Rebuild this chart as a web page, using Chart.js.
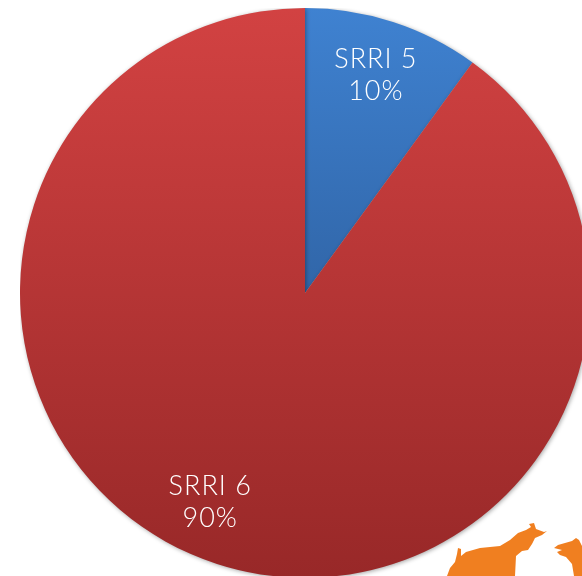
<!DOCTYPE html>
<html><head><meta charset="utf-8">
<script src="https://cdn.jsdelivr.net/npm/chart.js@4/dist/chart.umd.min.js"></script>
<style>
html,body{margin:0;padding:0;width:582px;height:576px;overflow:hidden;background:#fff;}
#wrap{position:absolute;left:20px;top:8px;width:570px;height:570px;}
#logo{position:absolute;left:0;top:0;}
</style></head><body>
<div id="wrap"><canvas id="c" width="570" height="570"></canvas></div>
<canvas id="logo" width="582" height="576"></canvas>
<script>
const categories = ["SRRI 5", "SRRI 6"];
const values = [10, 90];
const percentLabels = ["10%", "90%"];
const labelAngleShift = [0, 6.4];

const topColors = ["#3f82d1", "#d24242"];
const bottomColors = ["#22497f", "#982828"];

function grad(ctx) {
  const chart = ctx.chart; const a = chart.chartArea;
  if (!a) return topColors[ctx.dataIndex];
  const g = chart.ctx.createLinearGradient(0, a.top, 0, a.bottom);
  g.addColorStop(0, topColors[ctx.dataIndex]);
  g.addColorStop(1, bottomColors[ctx.dataIndex]);
  return g;
}

const shadowPlugin = {
  id: 'shadow',
  beforeDatasetsDraw(chart) {
    const c = chart.ctx; c.save();
    c.shadowColor = 'rgba(0,0,0,0.35)'; c.shadowBlur = 4; c.shadowOffsetX = 1; c.shadowOffsetY = 1;
  },
  afterDatasetsDraw(chart) { chart.ctx.restore(); }
};

const labelPlugin = {
  id: 'lbl',
  afterDraw(chart) {
    const c = chart.ctx; const meta = chart.getDatasetMeta(0);
    c.save();
    c.fillStyle = '#fff'; c.textAlign = 'center'; c.textBaseline = 'middle';
    c.font = '300 27px Lato';
    try { c.letterSpacing = '1px'; } catch (e) {}
    meta.data.forEach((arc, i) => {
      const p = arc.getProps(['x','y','startAngle','endAngle','outerRadius'], true);
      const mid = (p.startAngle + p.endAngle) / 2 + labelAngleShift[i] * Math.PI / 180;
      const r = p.outerRadius * 0.805;
      const x = p.x + Math.cos(mid) * r, y = p.y + Math.sin(mid) * r;
      c.fillText(categories[i], x, y - 16);
      c.fillText(percentLabels[i], x, y + 16);
    });
    c.restore();
  }
};

new Chart(document.getElementById('c'), {
  type: 'pie',
  data: { labels: categories, datasets: [{ data: values, backgroundColor: grad, borderWidth: 0 }] },
  options: {
    responsive: false, animation: false,
    layout: { padding: 0 },
    plugins: { legend: { display: false }, tooltip: { enabled: false } }
  },
  plugins: [shadowPlugin, labelPlugin]
});

// decorative bull & bear logo
(function(){
  const c = document.getElementById('logo').getContext('2d');
  c.fillStyle = '#f07f20';
  c.beginPath();
  c.moveTo(447,576); c.lineTo(450,568); c.lineTo(455,562); c.lineTo(457,554); c.lineTo(458,548);
  c.lineTo(461,549); c.lineTo(461,556); c.lineTo(466,552); c.lineTo(480,548); c.lineTo(500,546);
  c.lineTo(510,540); c.lineTo(518,533); c.lineTo(526,530); c.lineTo(531,527); c.lineTo(529,524);
  c.lineTo(534,523); c.lineTo(536,529); c.lineTo(544,532); c.lineTo(547,531); c.lineTo(542,535);
  c.lineTo(535,538); c.lineTo(532,544); c.lineTo(528,550); c.lineTo(522,551); c.lineTo(516,556);
  c.lineTo(515,576);
  c.closePath(); c.fill();
  c.beginPath();
  c.moveTo(554,548); c.lineTo(558,545); c.lineTo(565,543); c.lineTo(572,541); c.lineTo(576,538);
  c.lineTo(579,540); c.lineTo(582,546); c.lineTo(582,576); c.lineTo(574,576); c.lineTo(572,564);
  c.lineTo(566,557); c.lineTo(560,555); c.lineTo(557,552); c.lineTo(562,550);
  c.closePath(); c.fill();
})();
</script>
</body></html>
